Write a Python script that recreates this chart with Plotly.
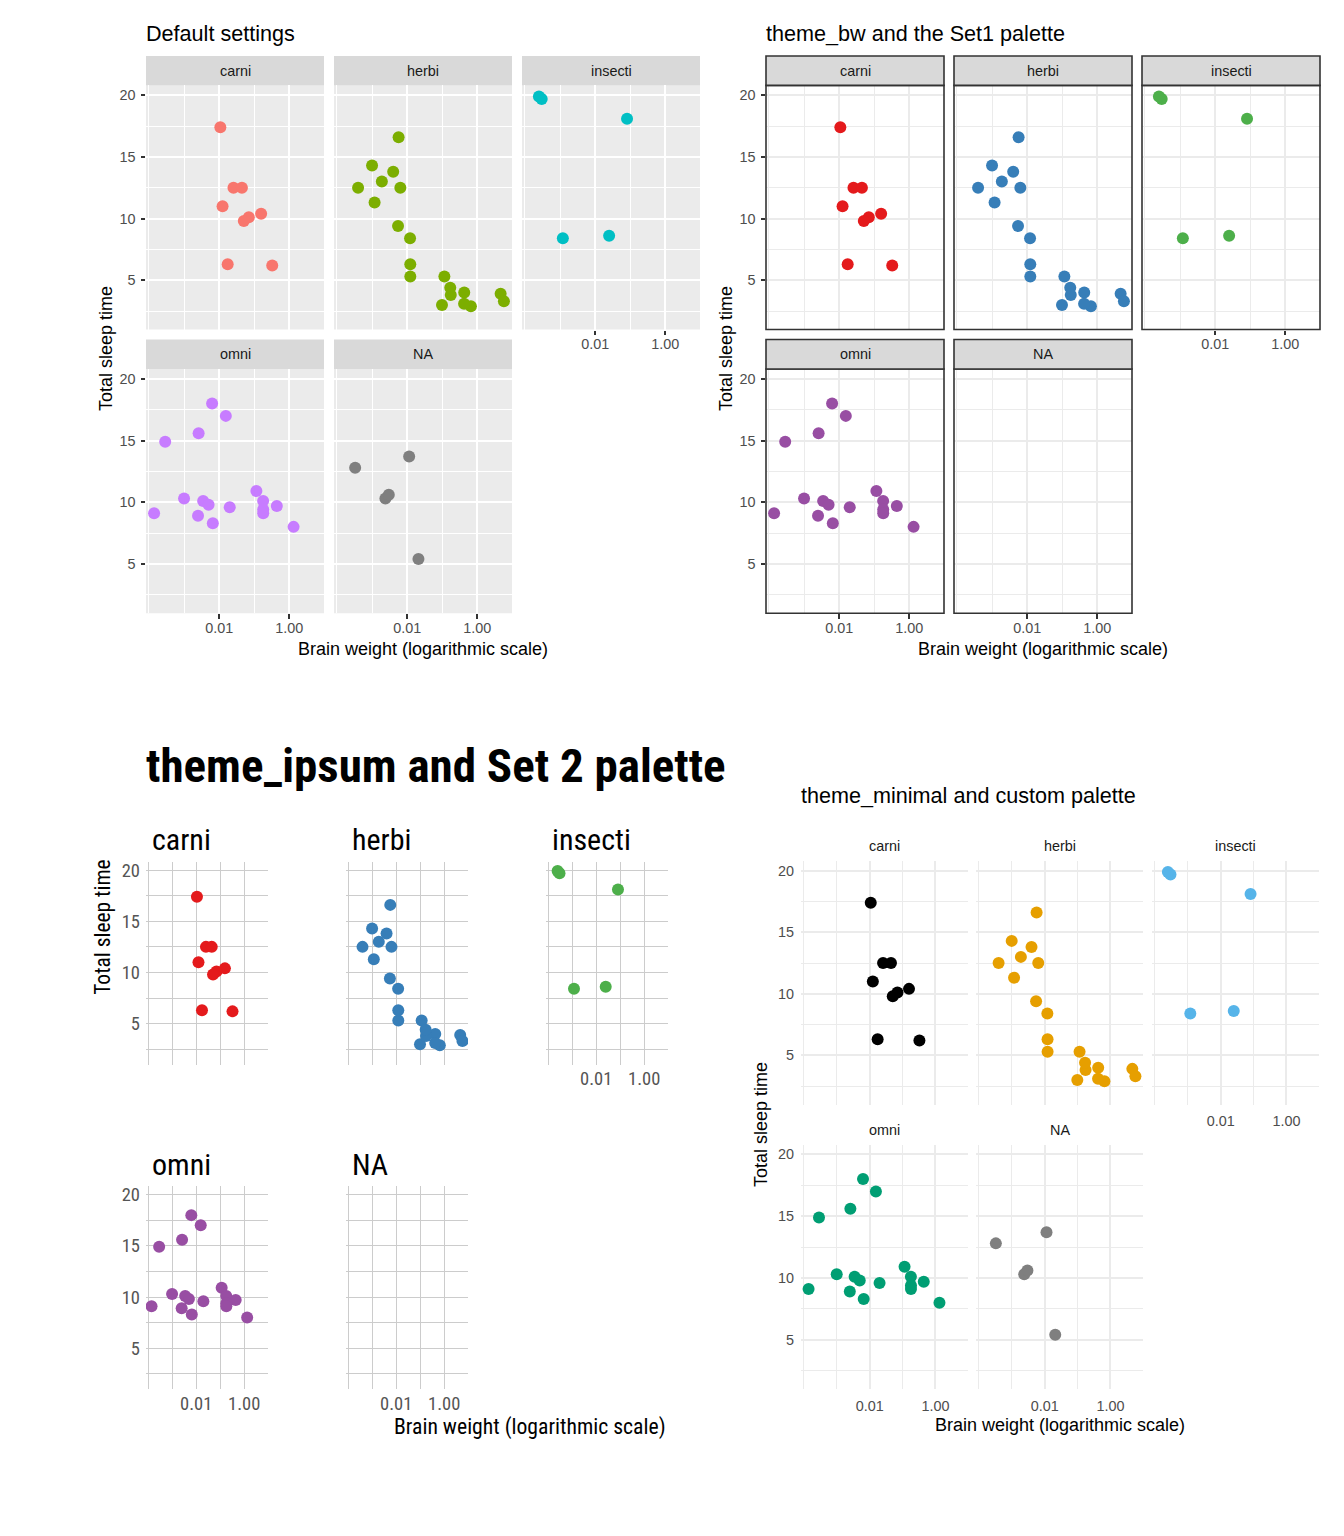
import numpy as np
import plotly.graph_objects as go

W, H = 1344, 1536
DY = 2  # small page offset correction

# ---- data: msleep rows with known brain weight ----
names = ["Owl monkey", "Greater short-tailed shrew", "Cow", "Dog", "Roe deer", "Goat", "Guinea pig",
         "Chinchilla", "Star-nosed mole", "African giant pouched rat", "Lesser short-tailed shrew",
         "Long-nosed armadillo", "Tree hyrax", "North American Opossum", "Asian elephant", "Big brown bat",
         "Horse", "Donkey", "European hedgehog", "Patas monkey", "Domestic cat", "Galago", "Gray seal",
         "Gray hyrax", "Human", "African elephant", "Macaque", "Golden hamster", "House mouse",
         "Little brown bat", "Slow loris", "Rabbit", "Sheep", "Chimpanzee", "Jaguar", "Baboon",
         "Desert hedgehog", "Phalanger", "Giant armadillo", "Rock hyrax", "Laboratory rat",
         "Squirrel monkey", "Eastern american mole", "Cotton rat", "Mole rat", "Arctic ground squirrel",
         "Thirteen-lined ground squirrel", "Musk shrew", "Pig", "Short-nosed echidna", "Brazilian tapir",
         "Tenrec", "Tree shrew", "Genet", "Arctic fox", "Red fox"]
vore = ["omni", "omni", "herbi", "carni", "herbi", "herbi", "herbi",
        "herbi", "omni", "omni", "omni",
        "carni", "herbi", "omni", "herbi", "insecti",
        "herbi", "herbi", "omni", "omni", "carni", "omni", "carni",
        "herbi", "omni", "herbi", "omni", "herbi", "herbi",
        "insecti", "carni", "herbi", "herbi", "omni", "carni", "omni",
        "NA", "NA", "insecti", "NA", "herbi",
        "omni", "insecti", "herbi", "NA", "herbi",
        "herbi", "NA", "omni", "insecti", "herbi",
        "omni", "omni", "carni", "carni", "carni"]
brainwt = [0.0155, 0.00029, 0.423, 0.070, 0.0982, 0.115, 0.0055,
           0.0064, 0.001, 0.0066, 0.00014,
           0.0108, 0.0123, 0.0063, 4.603, 0.0003,
           0.655, 0.419, 0.0035, 0.115, 0.0256, 0.005, 0.325,
           0.01227, 1.32, 5.712, 0.179, 0.001, 0.0004,
           0.00025, 0.0125, 0.0121, 0.175, 0.44, 0.157, 0.18,
           0.0024, 0.0114, 0.081, 0.021, 0.0019,
           0.02, 0.0012, 0.00118, 0.003, 0.0057,
           0.004, 0.00033, 0.18, 0.025, 0.169,
           0.0026, 0.0025, 0.0175, 0.0445, 0.0504]
sleep_total = [17.0, 14.9, 4.0, 10.1, 3.0, 5.3, 9.4,
               12.5, 10.3, 8.3, 9.1,
               17.4, 5.3, 18.0, 3.9, 19.7,
               2.9, 3.1, 10.1, 10.9, 12.5, 9.8, 6.2,
               6.3, 8.0, 3.3, 10.1, 14.3, 12.5,
               19.9, 11.0, 8.4, 3.8, 9.7, 10.4, 9.4,
               10.3, 13.7, 18.1, 5.4, 13.0,
               9.6, 8.4, 11.3, 10.6, 16.6,
               13.8, 12.8, 9.1, 8.6, 4.4,
               15.6, 8.9, 6.3, 12.5, 9.8]
# full sleep_total range of the data set (incl. rows without brain weight)
sleep_range_all = [1.9, 19.9]

vores = ["carni", "herbi", "insecti", "omni", "NA"]
x_tick_vals = [0.01, 1.0]
x_tick_text = ["0.01", "1.00"]
x_minor_vals = [1e-4, 1e-3, 1e-1]
y_tick_vals = [5, 10, 15, 20]
y_tick_text = ["5", "10", "15", "20"]
y_minor_vals = [2.5, 7.5, 12.5, 17.5]

pal_default = {"carni": "#F8766D", "herbi": "#7CAE00", "insecti": "#00BFC4", "omni": "#C77CFF", "NA": "#7F7F7F"}
pal_set1 = {"carni": "#E41A1C", "herbi": "#377EB8", "insecti": "#4DAF4A", "omni": "#984EA3", "NA": None}
pal_custom = {"carni": "#000000", "herbi": "#E69F00", "insecti": "#56B4E9", "omni": "#009E73", "NA": "#7F7F7F"}

titles = ["Default settings", "theme_bw and the Set1 palette",
          "theme_ipsum and Set 2 palette", "theme_minimal and custom palette"]
x_title = "Brain weight (logarithmic scale)"
y_title = "Total sleep time"

# ---- scales ----
lx = np.log10(np.array(brainwt))
xspan = lx.max() - lx.min()
X_RANGE = [lx.min() - 0.05 * xspan, lx.max() + 0.05 * xspan]
yspan = sleep_range_all[1] - sleep_range_all[0]
Y_RANGE = [sleep_range_all[0] - 0.05 * yspan, sleep_range_all[1] + 0.05 * yspan]

SANS = "Liberation Sans, Arial, Helvetica, sans-serif"
NARROW = "Liberation Sans Narrow, Arial Narrow, Roboto Condensed, DejaVu Sans Condensed, Liberation Sans, sans-serif"

def PX(x):
    return x / W

def PY(y):
    return 1 - (y - DY) / H

THEMES = {
    "grey": dict(bg="#EBEBEB", grid="#FFFFFF", gw=2.0, mgw=1.1, border=None, strip="#D9D9D9",
                 strip_line=None, ticks=True, font=SANS, tick_size=14.4, tick_color="#4D4D4D",
                 xstand=-3, ystand=2),
    "bw": dict(bg=None, grid="#EBEBEB", gw=2.0, mgw=1.1, border="#333333", strip="#D9D9D9",
               strip_line="#333333", ticks=True, font=SANS, tick_size=14.4, tick_color="#4D4D4D",
               xstand=-3, ystand=2),
    "ipsum": dict(bg=None, grid="#CCCCCC", gw=1.0, mgw=1.0, border=None, strip=None,
                  strip_line=None, ticks=False, font=NARROW, tick_size=18.5, tick_color="#555555",
                  xstand=1, ystand=5),
    "minimal": dict(bg=None, grid="#EBEBEB", gw=1.8, mgw=1.0, border=None, strip=None,
                    strip_line=None, ticks=False, font=SANS, tick_size=14.4, tick_color="#4D4D4D",
                    xstand=6, ystand=6),
}

fig = go.Figure()
shapes = []
annotations = []
axis_layout = {}
counter = [0]


def add_facet(box, theme_name, v, show_x, show_y, pal):
    counter[0] += 1
    n = counter[0]
    th = THEMES[theme_name]
    x0, x1, y0, y1 = box
    xk = "xaxis" if n == 1 else f"xaxis{n}"
    yk = "yaxis" if n == 1 else f"yaxis{n}"
    xr = "x" if n == 1 else f"x{n}"
    yr = "y" if n == 1 else f"y{n}"
    tick_font = dict(family=th["font"], size=th["tick_size"], color=th["tick_color"])
    common = dict(showgrid=True, gridcolor=th["grid"], gridwidth=th["gw"], zeroline=False,
                  showline=False, tickfont=tick_font, fixedrange=True)
    axis_layout[xk] = dict(
        type="log", range=X_RANGE, domain=[PX(x0), PX(x1)], anchor=yr,
        tickmode="array", tickvals=x_tick_vals, ticktext=x_tick_text,
        showticklabels=show_x,
        ticks=("outside" if (th["ticks"] and show_x) else ""), ticklen=4.5, tickwidth=1.5,
        tickcolor="#333333", ticklabelstandoff=th["xstand"],
        minor=dict(tickmode="array", tickvals=x_minor_vals, showgrid=True,
                   gridcolor=th["grid"], gridwidth=th["mgw"], ticks=""),
        **common)
    axis_layout[yk] = dict(
        range=Y_RANGE, domain=[PY(y1), PY(y0)], anchor=xr,
        tickmode="array", tickvals=y_tick_vals, ticktext=y_tick_text,
        showticklabels=show_y,
        ticks=("outside" if (th["ticks"] and show_y) else ""), ticklen=4.5, tickwidth=1.5,
        tickcolor="#333333", ticklabelstandoff=th["ystand"],
        minor=dict(tickmode="array", tickvals=y_minor_vals, showgrid=True,
                   gridcolor=th["grid"], gridwidth=th["mgw"], ticks=""),
        **common)
    if th["bg"]:
        shapes.append(dict(type="rect", xref="paper", yref="paper", x0=PX(x0), x1=PX(x1),
                           y0=PY(y1), y1=PY(y0), fillcolor=th["bg"], line=dict(width=0), layer="below"))
    if th["border"]:
        shapes.append(dict(type="rect", xref="paper", yref="paper", x0=PX(x0), x1=PX(x1),
                           y0=PY(y1), y1=PY(y0), fillcolor="rgba(0,0,0,0)",
                           line=dict(width=1.6, color=th["border"]), layer="above"))
    # strip
    if theme_name in ("grey", "bw"):
        sy0, sy1 = y0 - 29.5, y0
        shapes.append(dict(type="rect", xref="paper", yref="paper", x0=PX(x0), x1=PX(x1),
                           y0=PY(sy0), y1=PY(sy1), fillcolor=th["strip"],
                           line=dict(width=(1.6 if th["strip_line"] else 0), color=th["strip_line"] or "rgba(0,0,0,0)"),
                           layer="above" if th["strip_line"] else "below"))
        annotations.append(dict(text=v, xref="paper", yref="paper", x=PX((x0 + x1) / 2),
                                y=PY((sy0 + sy1) / 2), xanchor="center", yanchor="middle", showarrow=False,
                                font=dict(family=SANS, size=14.4, color="#1A1A1A")))
    elif theme_name == "ipsum":
        annotations.append(dict(text=v, xref="paper", yref="paper", x=PX(x0 + 4), y=PY(y0 - 22),
                                xanchor="left", yanchor="middle", showarrow=False,
                                font=dict(family=NARROW, size=30, color="#000000")))
    else:
        annotations.append(dict(text=v, xref="paper", yref="paper", x=PX((x0 + x1) / 2), y=PY(y0 - 14.5),
                                xanchor="center", yanchor="middle", showarrow=False,
                                font=dict(family=SANS, size=14.4, color="#1A1A1A")))
    col = pal[v]
    xs = [b for b, g in zip(brainwt, vore) if g == v]
    ys = [s for s, g in zip(sleep_total, vore) if g == v]
    if col is None:
        # this palette has no colour for missing groups: nothing is drawn, but keep the panel
        fig.add_trace(go.Scatter(x=xs, y=ys, mode="markers", xaxis=xr, yaxis=yr,
                                 marker=dict(size=12, color="rgba(0,0,0,0)"),
                                 showlegend=False, hoverinfo="skip"))
    else:
        fig.add_trace(go.Scatter(x=xs, y=ys, mode="markers", xaxis=xr, yaxis=yr,
                                 marker=dict(size=12, color=col, line=dict(width=0)),
                                 showlegend=False, hoverinfo="skip"))


def add_panel(boxes, theme_name, pal):
    for v in vores:
        show_x = v in ("insecti", "omni", "NA")
        show_y = v in ("carni", "omni")
        add_facet(boxes[v], theme_name, v, show_x, show_y, pal)


def grid_boxes(xs, ys):
    return {"carni": (*xs[0], *ys[0]), "herbi": (*xs[1], *ys[0]), "insecti": (*xs[2], *ys[0]),
            "omni": (*xs[0], *ys[1]), "NA": (*xs[1], *ys[1])}


def ann(text, x, y, size, family=SANS, xanchor="center", angle=0, color="#000000", weight=None):
    f = dict(family=family, size=size, color=color)
    if weight:
        f["weight"] = weight
    annotations.append(dict(text=text, xref="paper", yref="paper", x=PX(x), y=PY(y), xanchor=xanchor,
                            yanchor="middle", showarrow=False, textangle=angle, font=f))


# Panel A: default
boxes_a = grid_boxes([(146, 324), (334, 512), (522, 700)], [(85.5, 330), (369.5, 614)])
add_panel(boxes_a, "grey", pal_default)
ann(titles[0], 144, 33.5, 21.6, xanchor="left")
ann(x_title, 423, 650, 18)
ann(y_title, 106, 349.5, 18, angle=-90)

# Panel B: bw
boxes_b = grid_boxes([(766, 944), (954, 1132), (1142, 1320)], [(85.5, 330), (369.5, 614)])
add_panel(boxes_b, "bw", pal_set1)
ann(titles[1], 764, 33.5, 21.6, xanchor="left")
ann(x_title, 1043, 650, 18)
ann(y_title, 726, 349.5, 18, angle=-90)

# Panel C: ipsum
boxes_c = grid_boxes([(146, 268), (346, 468), (546, 668)], [(863, 1066), (1188, 1391)])
add_panel(boxes_c, "ipsum", pal_set1)
ann(titles[2], 144, 766, 47, family=NARROW, xanchor="left", weight=700)
ann(x_title, 668, 1429, 21.7, family=NARROW, xanchor="right")
ann(y_title, 103, 929, 21.5, family=NARROW, angle=-90)

# Panel D: minimal
boxes_d = grid_boxes([(801, 968), (976, 1143), (1152, 1319)], [(862, 1106), (1146, 1391)])
add_panel(boxes_d, "minimal", pal_custom)
ann(titles[3], 799, 797, 21.6, xanchor="left")
ann(x_title, 1060, 1427, 18)
ann(y_title, 761, 1126.5, 18, angle=-90)

fig.update_layout(width=W, height=H, margin=dict(l=0, r=0, t=0, b=0, pad=0),
                  paper_bgcolor="white", plot_bgcolor="rgba(0,0,0,0)",
                  shapes=shapes, annotations=annotations, showlegend=False,
                  font=dict(family=SANS), **axis_layout)
fig.write_html("out.html", config={"displayModeBar": False},
               post_script="document.body.style.margin='0px';document.body.style.overflow='hidden';")
